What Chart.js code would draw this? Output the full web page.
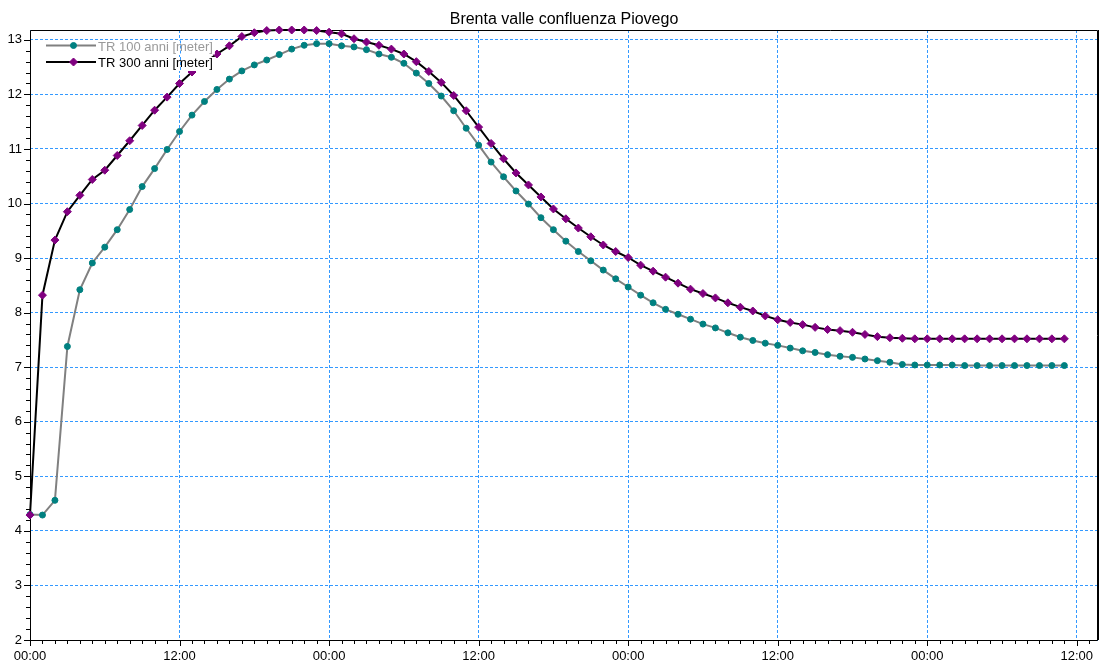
<!DOCTYPE html>
<html lang="en">
<head>
<meta charset="UTF-8">
<title>Brenta valle confluenza Piovego</title>
<script src="https://cdn.jsdelivr.net/npm/chart.js"></script>
<style>
  html, body { margin: 0; padding: 0; background: #fff; }
</style>
</head>
<body>
<canvas id="chart" width="1104" height="665"></canvas>
<script>
// hourly time steps from the start (00:00 of day 1)
const hours = [
   0,  1,  2,  3,  4,  5,  6,  7,  8,  9, 10, 11, 12, 13, 14, 15, 16, 17, 18, 19, 20,
  21, 22, 23, 24, 25, 26, 27, 28, 29, 30, 31, 32, 33, 34, 35, 36, 37, 38, 39, 40, 41,
  42, 43, 44, 45, 46, 47, 48, 49, 50, 51, 52, 53, 54, 55, 56, 57, 58, 59, 60, 61, 62,
  63, 64, 65, 66, 67, 68, 69, 70, 71, 72, 73, 74, 75, 76, 77, 78, 79, 80, 81, 82, 83
];

const tr100 = [
  4.30, 4.29, 4.56, 7.38, 8.42, 8.91, 9.20, 9.52, 9.89, 10.31, 10.64, 10.99, 11.32, 11.62,
  11.87, 12.09, 12.28, 12.43, 12.54, 12.63, 12.73, 12.83, 12.90, 12.93, 12.93, 12.89, 12.87,
  12.82, 12.74, 12.68, 12.57, 12.39, 12.20, 11.97, 11.70, 11.38, 11.07, 10.76, 10.49, 10.23,
  9.99, 9.74, 9.52, 9.31, 9.12, 8.95, 8.78, 8.62, 8.47, 8.32, 8.18, 8.06, 7.97, 7.88, 7.79,
  7.72, 7.63, 7.55, 7.49, 7.44, 7.40, 7.35, 7.30, 7.27, 7.23, 7.20, 7.18, 7.15, 7.12, 7.09,
  7.05, 7.04, 7.04, 7.04, 7.04, 7.03, 7.03, 7.03, 7.03, 7.03, 7.03, 7.03, 7.03, 7.03
];

const tr300 = [
  4.29, 8.32, 9.33, 9.85, 10.15, 10.44, 10.61, 10.88, 11.15, 11.43, 11.71, 11.95, 12.20, 12.41,
  12.58, 12.74, 12.89, 13.06, 13.13, 13.17, 13.18, 13.18, 13.18, 13.17, 13.14, 13.11, 13.02,
  12.96, 12.90, 12.83, 12.74, 12.60, 12.42, 12.22, 11.98, 11.70, 11.40, 11.10, 10.82, 10.56,
  10.34, 10.12, 9.90, 9.72, 9.55, 9.39, 9.24, 9.12, 9.01, 8.87, 8.76, 8.65, 8.54, 8.43, 8.35,
  8.27, 8.18, 8.10, 8.03, 7.94, 7.87, 7.82, 7.78, 7.73, 7.69, 7.67, 7.64, 7.60, 7.56, 7.54,
  7.53, 7.52, 7.52, 7.52, 7.52, 7.52, 7.52, 7.52, 7.52, 7.52, 7.52, 7.52, 7.52, 7.52
];

const tickHours = [0, 12, 24, 36, 48, 60, 72, 84];
const timeLabels = ['00:00', '12:00', '00:00', '12:00', '00:00', '12:00', '00:00', '12:00'];
const levelTicks = [2, 3, 4, 5, 6, 7, 8, 9, 10, 11, 12, 13];

const seriesNames = ['TR 100 anni [meter]', 'TR 300 anni [meter]'];
const titleText = 'Brenta valle confluenza Piovego';

const FONT = '"Liberation Sans", Arial, sans-serif';
const GRID = '#3399ff';

function toPoints(values) {
  return values.map((v, i) => ({ x: hours[i], y: v }));
}

// title, frame, minor ticks, time labels and legend drawn by hand
const decor = {
  id: 'decor',
  beforeDatasetsDraw(chart) {
    const { ctx, chartArea: a, scales: { x, y } } = chart;
    ctx.save();
    ctx.fillStyle = '#000';
    ctx.font = '16px ' + FONT;
    ctx.textAlign = 'center';
    ctx.textBaseline = 'alphabetic';
    ctx.fillText(titleText, (a.left + a.right) / 2, 24);

    ctx.font = '13px ' + FONT;
    ctx.textBaseline = 'top';
    tickHours.forEach((h, i) => {
      ctx.fillText(timeLabels[i], x.getPixelForValue(h), a.bottom + 10);
    });

    ctx.strokeStyle = '#000';
    ctx.lineWidth = 1;
    ctx.setLineDash([]);
    ctx.beginPath();
    // y ticks: major every 1, minor every 0.2
    for (let k = 20; k <= 132; k += 2) {
      const v = k / 10;
      if (v > y.max) break;
      const py = Math.round(y.getPixelForValue(v)) + 0.5;
      const len = (k % 10 === 0) ? 6 : 4;
      ctx.moveTo(a.left - len, py);
      ctx.lineTo(a.left, py);
    }
    // x ticks: major every 12 h, minor every hour
    for (let h = 0; h <= x.max; h++) {
      const px = Math.round(x.getPixelForValue(h)) + 0.5;
      const len = (h % 12 === 0) ? 6 : 4;
      ctx.moveTo(px, a.bottom);
      ctx.lineTo(px, a.bottom + len);
    }
    ctx.stroke();

    ctx.beginPath();
    ctx.rect(a.left + 0.5, a.top + 0.5, a.right - a.left - 1, a.bottom - a.top);
    ctx.stroke();
    ctx.beginPath();
    ctx.moveTo(a.right + 0.5, a.top);
    ctx.lineTo(a.right + 0.5, a.bottom);
    ctx.stroke();
    ctx.restore();
  },
  afterDatasetsDraw(chart) {
    const { ctx, scales: { x } } = chart;
    const ds = chart.data.datasets;
    const rows = [45.5, 62];
    const textColors = ['#9a9a9a', '#000'];
    ctx.save();
    ctx.font = '13px ' + FONT;
    ctx.textAlign = 'left';
    ctx.textBaseline = 'alphabetic';
    rows.forEach((ly, i) => {
      const tw = ctx.measureText(seriesNames[i]).width;
      const bx = 97, by = ly - 5, bh = 14;
      ctx.fillStyle = '#fff';
      ctx.fillRect(bx, by, tw + 3, bh);
      // grid lines stay visible through the text box
      ctx.strokeStyle = GRID;
      ctx.lineWidth = 1;
      ctx.setLineDash([3, 2]);
      tickHours.forEach(h => {
        const px = Math.round(x.getPixelForValue(h)) + 0.5;
        if (px > bx && px < bx + tw + 3) {
          ctx.beginPath();
          ctx.moveTo(px, by);
          ctx.lineTo(px, by + bh);
          ctx.stroke();
        }
      });
      ctx.setLineDash([]);
      ctx.strokeStyle = ds[i].borderColor;
      ctx.lineWidth = 2;
      ctx.beginPath();
      ctx.moveTo(46, ly);
      ctx.lineTo(96, ly);
      ctx.stroke();
      ctx.fillStyle = ds[i].pointBackgroundColor;
      ctx.strokeStyle = ds[i].pointBorderColor;
      ctx.lineWidth = 1;
      Chart.helpers.drawPoint(ctx, {
        pointStyle: ds[i].pointStyle,
        radius: ds[i].pointRadius,
        borderWidth: 1
      }, 73.5, ly);
      ctx.fillStyle = textColors[i];
      ctx.fillText(seriesNames[i], 98, ly + 5);
    });
    ctx.restore();
  }
};

new Chart(document.getElementById('chart'), {
  type: 'line',
  data: {
    datasets: [
      {
        label: seriesNames[0],
        data: toPoints(tr100),
        borderColor: '#808080',
        borderWidth: 2,
        pointStyle: 'circle',
        pointRadius: 3,
        pointBackgroundColor: '#008080',
        pointBorderColor: '#008080',
        pointBorderWidth: 1,
        tension: 0,
        clip: false,
        order: 1
      },
      {
        label: seriesNames[1],
        data: toPoints(tr300),
        borderColor: '#000000',
        borderWidth: 2,
        pointStyle: 'rectRot',
        pointRadius: 4,
        pointBackgroundColor: '#800080',
        pointBorderColor: '#800080',
        pointBorderWidth: 1,
        tension: 0,
        clip: false,
        order: 0
      }
    ]
  },
  options: {
    responsive: false,
    animation: false,
    devicePixelRatio: 1,
    layout: { padding: { top: 30, right: 6, left: 0, bottom: 0 } },
    plugins: {
      legend: { display: false },
      title: { display: false },
      tooltip: { enabled: false }
    },
    scales: {
      x: {
        type: 'linear',
        min: 0,
        max: 85.7,
        afterFit(scale) { scale.height = 25; },
        afterBuildTicks(scale) { scale.ticks = tickHours.map(v => ({ value: v })); },
        grid: { color: GRID, lineWidth: 1, drawTicks: false },
        border: { display: false, dash: [3, 2] },
        ticks: { display: false }
      },
      y: {
        type: 'linear',
        min: 2,
        max: 13.18,
        afterFit(scale) { scale.width = 30; },
        afterBuildTicks(scale) { scale.ticks = levelTicks.map(v => ({ value: v })); },
        grid: { color: GRID, lineWidth: 1, drawTicks: false },
        border: { display: false, dash: [3, 2] },
        ticks: {
          padding: 8,
          color: '#000',
          font: { family: FONT, size: 13 },
          callback: v => String(v)
        }
      }
    }
  },
  plugins: [decor]
});
</script>
</body>
</html>
